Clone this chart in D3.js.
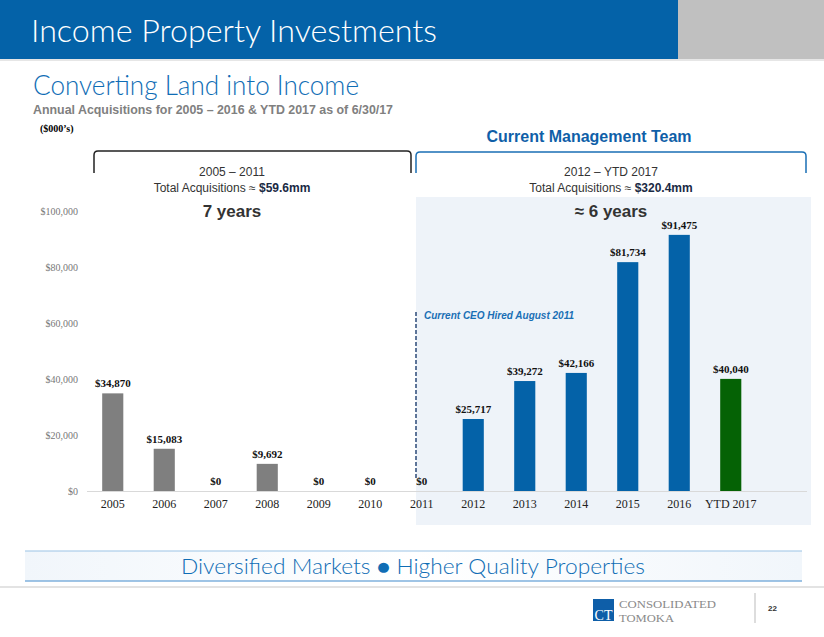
<!DOCTYPE html>
<html><head><meta charset="utf-8">
<script src="https://cdn.jsdelivr.net/npm/d3@7"></script>
<style>body{margin:0;background:#fff}svg{display:block}</style>
</head><body>
<script>
const categories = ["2005","2006","2007","2008","2009","2010","2011","2012","2013","2014","2015","2016","YTD 2017"];
const values = [34870,15083,0,9692,0,0,0,25717,39272,42166,81734,91475,40040];
const valueLabels = ["$34,870","$15,083","$0","$9,692","$0","$0","$0","$25,717","$39,272","$42,166","$81,734","$91,475","$40,040"];
const groups = ["prior","prior","prior","prior","prior","prior","prior","current","current","current","current","current","ytd"];
const yTicks = [0,20000,40000,60000,80000,100000];

const W=824,H=637;
const svg=d3.select("body").append("svg").attr("width",W).attr("height",H);
const serif="'Liberation Serif','Times New Roman',serif";
const sans="'Liberation Sans',Arial,sans-serif";
const gothic="'Lato','Noto Sans',sans-serif";

// header
svg.append("rect").attr("x",0).attr("y",0).attr("width",678).attr("height",59).attr("fill","#0462a8");
svg.append("rect").attr("x",678).attr("y",0).attr("width",146).attr("height",59).attr("fill","#c0c0c0");
svg.append("rect").attr("x",0).attr("y",59).attr("width",W).attr("height",2).attr("fill","#e6e6e6");
svg.append("text").attr("x",31).attr("y",42).attr("fill","#fff").attr("font-family",gothic).attr("font-weight",300)
  .attr("font-size",31).attr("textLength",406).attr("lengthAdjust","spacingAndGlyphs").text("Income Property Investments");

svg.append("text").attr("x",33).attr("y",95).attr("fill","#0f6db5").attr("font-family",gothic).attr("font-weight",300)
  .attr("font-size",27).attr("textLength",326).attr("lengthAdjust","spacingAndGlyphs").text("Converting Land into Income");
svg.append("text").attr("x",33).attr("y",114).attr("fill","#808080").attr("font-family",sans).attr("font-weight","bold")
  .attr("font-size",13).attr("textLength",360).attr("lengthAdjust","spacingAndGlyphs").text("Annual Acquisitions for 2005 – 2016 & YTD 2017 as of 6/30/17");
svg.append("text").attr("x",40).attr("y",132).attr("fill","#000").attr("font-family",serif).attr("font-weight","bold")
  .attr("font-size",10).text("($000’s)");

// highlight panel
svg.append("rect").attr("x",416).attr("y",197).attr("width",395).attr("height",328).attr("fill","#eef3f9");

// scales
const x=d3.scaleBand().domain(categories).range([87,87+13*51.5]).paddingInner(0.59).paddingOuter(0.295);
const y=d3.scaleLinear().domain([0,100000]).range([491,211]);

// y axis
const yAxis=svg.append("g").attr("transform","translate(80,0)")
  .call(d3.axisLeft(y).tickValues(yTicks).tickSize(0).tickPadding(2).tickFormat(d=>"$"+d3.format(",")(d)));
yAxis.select(".domain").remove();
yAxis.selectAll("text").attr("font-family",serif).attr("font-size",10).attr("fill","#777");

// baseline
svg.append("line").attr("x1",87).attr("x2",807).attr("y1",y(0)+0.5).attr("y2",y(0)+0.5).attr("stroke","#d9d9d9").attr("stroke-width",1);

// x axis labels
const xAxis=svg.append("g").attr("transform",`translate(0,${y(0)})`)
  .call(d3.axisBottom(x).tickSize(0).tickPadding(8));
xAxis.select(".domain").remove();
xAxis.selectAll("text").attr("font-family",serif).attr("font-size",12).attr("fill","#222");

// bars
const colors={prior:"#7f7f7f",current:"#0462a8",ytd:"#056205"};
const data=categories.map((c,i)=>({c,v:values[i],l:valueLabels[i],g:groups[i]}));
svg.selectAll("rect.bar").data(data).enter().append("rect").attr("class","bar")
  .attr("x",d=>x(d.c)).attr("width",x.bandwidth()).attr("y",d=>y(d.v)).attr("height",d=>y(0)-y(d.v))
  .attr("fill",d=>colors[d.g]);
svg.selectAll("text.vl").data(data).enter().append("text").attr("class","vl")
  .attr("x",d=>x(d.c)+x.bandwidth()/2).attr("y",d=>y(d.v)-6).attr("text-anchor","middle")
  .attr("font-family",serif).attr("font-weight","bold").attr("font-size",11).attr("fill","#111").text(d=>d.l);

// dashed CEO line
svg.append("line").attr("x1",416).attr("x2",416).attr("y1",312).attr("y2",478).attr("stroke","#2b4a78").attr("stroke-width",1.5).attr("stroke-dasharray","4,2");
svg.append("text").attr("x",424).attr("y",319).attr("fill","#1a6fb5").attr("font-family",sans).attr("font-weight","bold")
  .attr("font-style","italic").attr("font-size",10).text("Current CEO Hired August 2011");

// brackets
svg.append("path").attr("d","M94,173 V155 Q94,151 98,151 H407 Q411,151 411,155 V173").attr("fill","none").attr("stroke","#222").attr("stroke-width",1.5);
svg.append("path").attr("d","M416,173 V156 Q416,152 420,152 H802 Q806,152 806,156 V173").attr("fill","none").attr("stroke","#1a6fb5").attr("stroke-width",1.5);
svg.append("text").attr("x",589).attr("y",142).attr("text-anchor","middle").attr("fill","#0f5fa8").attr("font-family",sans)
  .attr("font-weight","bold").attr("font-size",16).text("Current Management Team");

// group captions
function caption(cx,l1,l2a,l2b,l3){
  svg.append("text").attr("x",cx).attr("y",176).attr("text-anchor","middle").attr("fill","#333").attr("font-family",sans).attr("font-size",12).text(l1);
  const t=svg.append("text").attr("x",cx).attr("y",192).attr("text-anchor","middle").attr("fill","#333").attr("font-family",sans).attr("font-size",12);
  t.append("tspan").text(l2a);
  t.append("tspan").attr("font-weight","bold").attr("fill","#1a2a44").text(l2b);
  svg.append("text").attr("x",cx).attr("y",217).attr("text-anchor","middle").attr("fill","#333").attr("font-family",sans)
    .attr("font-weight","bold").attr("font-size",17).text(l3);
}
caption(232,"2005 – 2011","Total Acquisitions ≈ ","$59.6mm","7 years");
caption(611,"2012 – YTD 2017","Total Acquisitions  ≈ ","$320.4mm","≈ 6 years");

// bottom banner
const grad=svg.append("defs").append("linearGradient").attr("id","bg").attr("x1",0).attr("x2",1);
grad.append("stop").attr("offset","0%").attr("stop-color","#f1f6fb");
grad.append("stop").attr("offset","50%").attr("stop-color","#ffffff");
grad.append("stop").attr("offset","100%").attr("stop-color","#f1f6fb");
svg.append("rect").attr("x",25).attr("y",551).attr("width",777).attr("height",30).attr("fill","url(#bg)");
svg.append("line").attr("x1",25).attr("x2",802).attr("y1",551).attr("y2",551).attr("stroke","#9cc3e6").attr("stroke-width",1.2);
svg.append("line").attr("x1",25).attr("x2",802).attr("y1",581).attr("y2",581).attr("stroke","#7fb0dc").attr("stroke-width",1.5);
svg.append("text").attr("x",413).attr("y",574).attr("text-anchor","middle").attr("fill","#0f6db5").attr("font-family",gothic)
  .attr("font-weight",300).attr("font-size",21).attr("textLength",464).attr("lengthAdjust","spacingAndGlyphs").text("Diversified Markets ● Higher Quality Properties");
svg.append("rect").attr("x",0).attr("y",586).attr("width",W).attr("height",2).attr("fill","#e3e3e3");

// logo
svg.append("rect").attr("x",593).attr("y",599).attr("width",21).attr("height",22).attr("fill","#0e5ea8");
svg.append("text").attr("x",603.5).attr("y",620).attr("text-anchor","middle").attr("fill","#fff").attr("font-family",serif).attr("font-size",14).text("CT");
svg.append("text").attr("x",619).attr("y",608).attr("fill","#8a8a8a").attr("font-family",serif).attr("font-size",11)
  .attr("textLength",97).attr("lengthAdjust","spacingAndGlyphs").text("CONSOLIDATED");
svg.append("text").attr("x",619).attr("y",622).attr("fill","#8a8a8a").attr("font-family",serif).attr("font-size",11)
  .attr("textLength",55).attr("lengthAdjust","spacingAndGlyphs").text("TOMOKA");
svg.append("line").attr("x1",755).attr("x2",755).attr("y1",593).attr("y2",623).attr("stroke","#bbb");
svg.append("text").attr("x",768).attr("y",611).attr("fill","#333").attr("font-family",sans).attr("font-weight","bold").attr("font-size",8).text("22");
</script>
</body></html>
